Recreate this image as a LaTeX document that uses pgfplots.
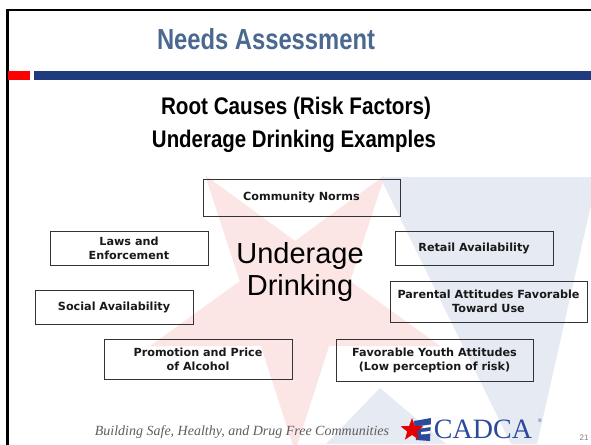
\documentclass[border=0pt]{standalone}
\usepackage{fontspec}
\usepackage{graphicx}
\usepackage{pgfplots}
\pgfplotsset{compat=1.18}
\setmainfont{Liberation Sans}
\newfontfamily\boxfont{DejaVu Sans}
\newfontfamily\seriffont{Liberation Serif}
\definecolor{titleblue}{HTML}{4A6890}
\definecolor{barblue}{HTML}{1F3A7D}
\definecolor{barred}{HTML}{FF0000}
\definecolor{wmpink}{HTML}{FCE5E5}
\definecolor{wmblue}{HTML}{E6EAF2}
\definecolor{logoblue}{HTML}{2B4A9A}
\definecolor{footgray}{HTML}{5E5E5E}
\definecolor{boxline}{HTML}{333333}
\begin{document}
\begin{tikzpicture}
\begin{axis}[scale only axis, width=591pt, height=444pt,
  xmin=0, xmax=591, ymin=0, ymax=444, y dir=reverse, hide axis]
% background
\addplot[fill=white, draw=none] coordinates {(0,0) (591,0) (591,444) (0,444)} -- cycle;
% watermark star (inverted)
\addplot[fill=wmpink, draw=none] coordinates {
 (295,452) (260.9,345.9) (149.5,346.3) (239.8,281.1) (205.1,175.2)
 (295,241) (384.9,175.2) (350.2,281.1) (440.5,346.3) (329.1,345.9)} -- cycle;
% watermark blue V and triangle
\addplot[fill=wmblue, draw=none] coordinates {(380,177) (591,177) (591,205) (537,444) (511,444)} -- cycle;
\addplot[fill=wmblue, draw=none] coordinates {(380,388) (446,444) (326,444)} -- cycle;
% slide border
\addplot[black, line width=2.4pt] coordinates {(7.5,446) (7.5,10) (593,10)};
% header bars
\addplot[fill=barred, draw=none] coordinates {(8,71) (30,71) (30,80) (8,80)} -- cycle;
\addplot[fill=barblue, draw=none] coordinates {(34,71) (591,71) (591,80) (34,80)} -- cycle;
% boxes
\addplot[draw=boxline, line width=0.9pt] coordinates {(203,179) (400,179) (400,216) (203,216)} -- cycle;
\addplot[draw=boxline, line width=0.9pt] coordinates {(50,231) (208,231) (208,265) (50,265)} -- cycle;
\addplot[draw=boxline, line width=0.9pt] coordinates {(395,231) (553,231) (553,265) (395,265)} -- cycle;
\addplot[draw=boxline, line width=0.9pt] coordinates {(35,290) (193,290) (193,324) (35,324)} -- cycle;
\addplot[draw=boxline, line width=0.9pt] coordinates {(390,281) (587,281) (587,322) (390,322)} -- cycle;
\addplot[draw=boxline, line width=0.9pt] coordinates {(104,339) (292,339) (292,379) (104,379)} -- cycle;
\addplot[draw=boxline, line width=0.9pt] coordinates {(336,339) (533,339) (533,381) (336,381)} -- cycle;
% logo star and flag
\addplot[fill=logoblue, draw=none] coordinates {(414,421) (431,418) (430,441) (416,440)} -- cycle;
\addplot[fill=white, draw=none] coordinates {(420,426) (431,424.5) (431,427) (420,428.5)} -- cycle;
\addplot[fill=white, draw=none] coordinates {(421,432) (430.5,431) (430.5,433.5) (421,434.5)} -- cycle;
\addplot[fill=red!90!black, draw=none] coordinates {
 (412,418) (414.9,426) (423.4,426.3) (416.8,431.5) (419.1,439.7)
 (412,435) (404.9,439.7) (407.2,431.5) (400.6,426.3) (409.1,426)} -- cycle;
% texts
\node[anchor=base, text=titleblue] at (axis cs:266,49)
  {\resizebox{218pt}{\height}{\fontsize{29}{29}\selectfont\bfseries Needs Assessment}};
\node[anchor=base] at (axis cs:296,114)
  {\resizebox{270pt}{\height}{\fontsize{24}{24}\selectfont\bfseries Root Causes (Risk Factors)}};
\node[anchor=base] at (axis cs:294,147)
  {\resizebox{284pt}{\height}{\fontsize{24}{24}\selectfont\bfseries Underage Drinking Examples}};
\node[anchor=base] at (axis cs:300,263) {\fontsize{29}{29}\selectfont Underage};
\node[anchor=base] at (axis cs:300,295) {\fontsize{29}{29}\selectfont Drinking};
\tikzset{bx/.style={align=center, text=black!90, font=\boxfont\bfseries\fontsize{11.2}{14.3}\selectfont}}
\node[bx] at (axis cs:301.5,197.5) {Community Norms};
\node[bx] at (axis cs:129,248) {Laws and\\Enforcement};
\node[bx] at (axis cs:474,248) {Retail Availability};
\node[bx] at (axis cs:114,307) {Social Availability};
\node[bx] at (axis cs:488.5,301.5) {Parental Attitudes Favorable\\Toward Use};
\node[bx] at (axis cs:198,359) {Promotion and Price\\of Alcohol};
\node[bx] at (axis cs:434.5,360.5) {Favorable Youth Attitudes\\(Low perception of risk)};
\node[anchor=base, text=footgray] at (axis cs:242,435)
  {\seriffont\itshape\fontsize{14}{14}\selectfont Building Safe, Healthy, and Drug Free Communities};
\node[anchor=base, text=logoblue, inner sep=0pt] at (axis cs:483,438)
  {\seriffont\fontsize{28}{28}\selectfont CADCA};
\node[text=logoblue, inner sep=0pt] at (axis cs:540,421) {\fontsize{5}{5}\selectfont\textregistered};
\node[anchor=base, text=gray, inner sep=0pt] at (axis cs:584,440) {\fontsize{8}{8}\selectfont 21};
\end{axis}
\end{tikzpicture}
\end{document}
